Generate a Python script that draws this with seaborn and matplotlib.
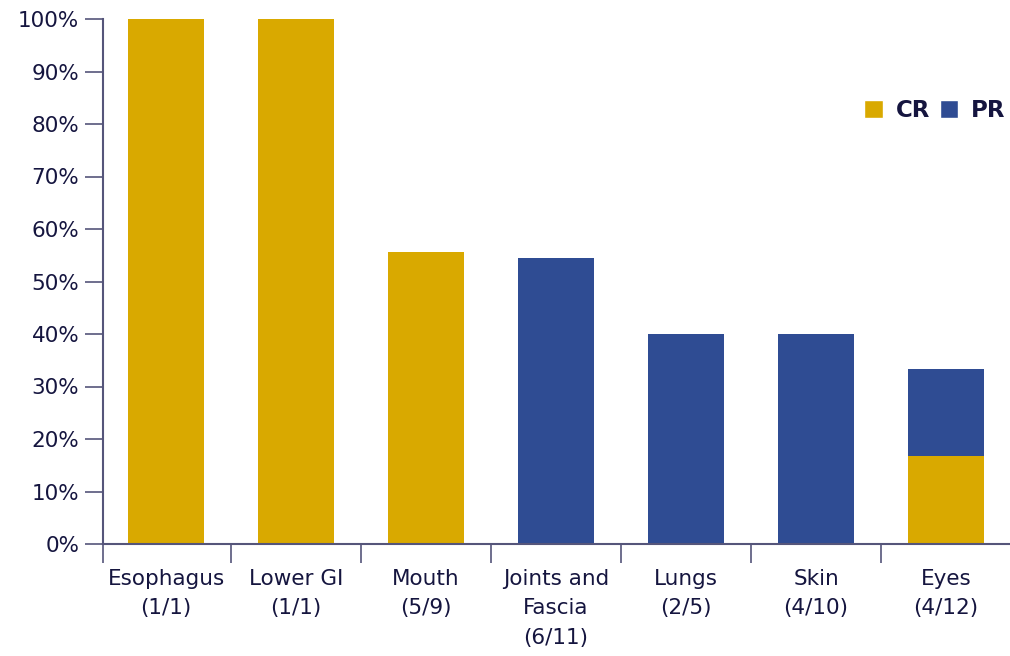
import matplotlib
matplotlib.use("Agg")
import matplotlib.pyplot as plt
from matplotlib.patches import Patch
import seaborn as sns
import pandas as pd

# Response rates by organ site (percent of evaluable patients)
sites = ["Esophagus\n(1/1)", "Lower GI\n(1/1)", "Mouth\n(5/9)", "Joints and\nFascia\n(6/11)",
         "Lungs\n(2/5)", "Skin\n(4/10)", "Eyes\n(4/12)"]
cr_pct = [100.0, 100.0, 55.6, 0.0, 0.0, 0.0, 16.7]
pr_pct = [0.0, 0.0, 0.0, 54.5, 40.0, 40.0, 16.7]
y_ticks = [0, 10, 20, 30, 40, 50, 60, 70, 80, 90, 100]

GOLD = "#D9A900"
BLUE = "#2F4C93"
TEXT = "#15153F"
AXIS = "#55557A"

df = pd.DataFrame({"site": sites, "CR": cr_pct, "PR": pr_pct})
df["total"] = df["CR"] + df["PR"]

sns.set_style("white")
plt.rcParams["font.family"] = ["DejaVu Sans"]

fig = plt.figure(figsize=(10.10, 6.56), dpi=100)
ax = fig.add_axes([103 / 1010, 112 / 656, 910 / 1010, 525 / 656])

# stacked bars: total (PR on top) drawn first, CR drawn over it from zero
sns.barplot(data=df, x="site", y="total", color=BLUE, width=0.585, ax=ax,
            saturation=1, edgecolor="none")
sns.barplot(data=df, x="site", y="CR", color=GOLD, width=0.585, ax=ax,
            saturation=1, edgecolor="none")

x_left = -0.485
ax.set_xlim(x_left, len(sites) + x_left)
ax.set_ylim(0, 100)
ax.set_xlabel("")
ax.set_ylabel("")

ax.set_yticks(y_ticks)
ax.set_yticklabels([f"{v}%" for v in y_ticks], fontsize=15.5, color=TEXT)

# category separators as outward ticks; labels centered under bars
ax.set_xticks([x_left] + [i + 0.5 for i in range(len(sites) - 1)])
ax.set_xticklabels([])
ax.set_xticks(range(len(sites)), minor=True)
ax.set_xticklabels(sites, minor=True, fontsize=15.5, color=TEXT, linespacing=1.58)
ax.tick_params(axis="x", which="major", bottom=True, direction="out", length=13.5,
               width=1.2, color=AXIS)
ax.tick_params(axis="x", which="minor", bottom=True, length=0, pad=18)
ax.tick_params(axis="y", left=True, direction="out", length=13, width=1.2,
               color=AXIS, pad=4)

for side in ["top", "right"]:
    ax.spines[side].set_visible(False)
for side in ["left", "bottom"]:
    ax.spines[side].set_color(AXIS)
    ax.spines[side].set_linewidth(1.5)

handles = [Patch(facecolor=GOLD, label="CR"), Patch(facecolor=BLUE, label="PR")]
leg = fig.legend(handles=handles, loc="center right", bbox_to_anchor=(1.016, 0.832),
                 ncol=2, frameon=False, handlelength=0.8, handleheight=0.8,
                 handletextpad=0.55, columnspacing=0.45,
                 prop={"weight": "bold", "size": 16.5})
for t in leg.get_texts():
    t.set_color(TEXT)

fig.savefig("out.png", dpi=100)
